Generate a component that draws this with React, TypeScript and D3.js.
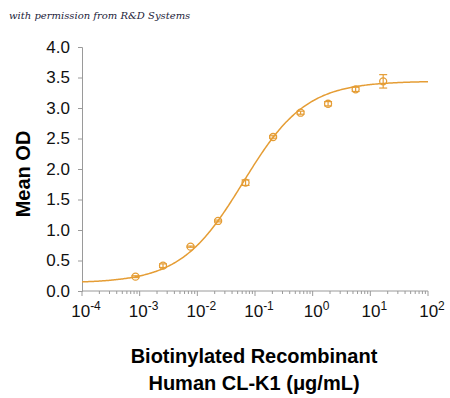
import React, { useEffect, useRef } from "react";
import * as d3 from "d3";

// concentrations (ug/mL), 3-fold serial dilution
const concentrations = [0.000847, 0.00254, 0.00762, 0.0229, 0.0686, 0.206, 0.617, 1.85, 5.56, 16.7];
const meanOD = [0.235, 0.415, 0.727, 1.148, 1.776, 2.525, 2.923, 3.07, 3.306, 3.437];
const errorOD = [0.015, 0.03, 0.01, 0.015, 0.045, 0.02, 0.025, 0.035, 0.035, 0.11];

// 4PL fit parameters
const fitBottom = 0.13;
const fitTop = 3.44;
const fitEC50 = 0.0626;
const fitHill = 0.8;

const yTicks = [0, 0.5, 1, 1.5, 2, 2.5, 3, 3.5, 4];
const xExponents = [-4, -3, -2, -1, 0, 1, 2];

const App = () => {
  const ref = useRef<SVGSVGElement | null>(null);

  useEffect(() => {
    const width = 450;
    const height = 398;
    const left = 82;
    const right = 428;
    const top = 47;
    const bottom = 291;
    const orange = "#e59d35";
    const axisColor = "#9a9a9a";

    const svg = d3.select(ref.current);
    svg.selectAll("*").remove();
    svg.attr("width", width).attr("height", height);

    const x = d3.scaleLog().domain([1e-4, 1e2]).range([left, right]);
    const y = d3.scaleLinear().domain([0, 4]).range([bottom, top]);

    // watermark
    svg
      .append("text")
      .attr("x", 9)
      .attr("y", 19)
      .attr("font-family", "DejaVu Serif, serif")
      .attr("font-style", "italic")
      .attr("font-size", "10px")
      .attr("fill", "#1c1c3a")
      .text("with permission from R&D Systems");

    // y axis
    const yAxis = svg
      .append("g")
      .attr("transform", `translate(${left},0)`)
      .call(d3.axisLeft(y).tickValues(yTicks).tickSize(4).tickPadding(8).tickFormat(d3.format(".1f")));
    yAxis.select(".domain").attr("stroke", axisColor);
    yAxis.selectAll("line").attr("stroke", axisColor);
    yAxis
      .selectAll("text")
      .attr("font-family", "Arial, Liberation Sans, sans-serif")
      .attr("font-size", "17px")
      .attr("fill", "#111");

    // x axis with minor ticks
    const minor: number[] = [];
    for (let e = -4; e < 2; e++) {
      for (let m = 2; m <= 9; m++) minor.push(m * Math.pow(10, e));
    }
    const xAxis = svg.append("g").attr("transform", `translate(0,${bottom})`);
    xAxis
      .append("line")
      .attr("x1", left)
      .attr("x2", right)
      .attr("stroke", axisColor);
    xAxis
      .selectAll("line.minor")
      .data(minor)
      .join("line")
      .attr("class", "minor")
      .attr("x1", (d) => x(d))
      .attr("x2", (d) => x(d))
      .attr("y1", 0)
      .attr("y2", 3)
      .attr("stroke", axisColor);
    xAxis
      .selectAll("line.major")
      .data(xExponents)
      .join("line")
      .attr("class", "major")
      .attr("x1", (d) => x(Math.pow(10, d)))
      .attr("x2", (d) => x(Math.pow(10, d)))
      .attr("y1", 0)
      .attr("y2", 5)
      .attr("stroke", axisColor);

    const labels = xAxis
      .selectAll("text")
      .data(xExponents)
      .join("text")
      .attr("x", (d) => x(Math.pow(10, d)) + 4)
      .attr("y", 26)
      .attr("text-anchor", "middle")
      .attr("font-family", "Arial, Liberation Sans, sans-serif")
      .attr("font-size", "17px")
      .attr("fill", "#111");
    labels.append("tspan").text("10");
    labels
      .append("tspan")
      .attr("dy", -7)
      .attr("font-size", "12px")
      .text((d) => String(d));

    // fitted curve
    const fit = (c: number) => fitTop + (fitBottom - fitTop) / (1 + Math.pow(c / fitEC50, fitHill));
    const xs = d3.range(0, 301).map((i) => Math.pow(10, -4 + (6 * i) / 300));
    svg
      .append("path")
      .datum(xs)
      .attr("fill", "none")
      .attr("stroke", orange)
      .attr("stroke-width", 1.5)
      .attr("d", d3.line<number>().x((d) => x(d)).y((d) => y(fit(d))));

    // error bars
    const pts = concentrations.map((c, i) => ({ c, v: meanOD[i], e: errorOD[i] }));
    const eb = svg.append("g").attr("stroke", orange).attr("stroke-width", 1.2);
    pts.forEach((p) => {
      const cx = x(p.c);
      eb.append("line").attr("x1", cx).attr("x2", cx).attr("y1", y(p.v + p.e)).attr("y2", y(p.v - p.e));
      eb.append("line").attr("x1", cx - 4).attr("x2", cx + 4).attr("y1", y(p.v + p.e)).attr("y2", y(p.v + p.e));
      eb.append("line").attr("x1", cx - 4).attr("x2", cx + 4).attr("y1", y(p.v - p.e)).attr("y2", y(p.v - p.e));
    });

    // markers
    svg
      .append("g")
      .selectAll("circle")
      .data(pts)
      .join("circle")
      .attr("cx", (d) => x(d.c))
      .attr("cy", (d) => y(d.v))
      .attr("r", 3.5)
      .attr("fill", "none")
      .attr("stroke", orange)
      .attr("stroke-width", 1.3);

    // axis titles
    svg
      .append("text")
      .attr("transform", `translate(30,${(top + bottom) / 2 + 5}) rotate(-90)`)
      .attr("text-anchor", "middle")
      .attr("font-family", "Arial, Liberation Sans, sans-serif")
      .attr("font-weight", "bold")
      .attr("font-size", "20px")
      .attr("fill", "#000")
      .text("Mean OD");

    const title = svg
      .append("text")
      .attr("text-anchor", "middle")
      .attr("font-family", "Arial, Liberation Sans, sans-serif")
      .attr("font-weight", "bold")
      .attr("font-size", "20px")
      .attr("fill", "#000");
    title.append("tspan").attr("x", 254).attr("y", 363).text("Biotinylated Recombinant");
    title.append("tspan").attr("x", 254).attr("y", 390).text("Human CL-K1 (\u03bcg/mL)");
  }, []);

  return <svg ref={ref} style={{ position: "absolute", left: 0, top: 0 }} />;
};

export default App;
